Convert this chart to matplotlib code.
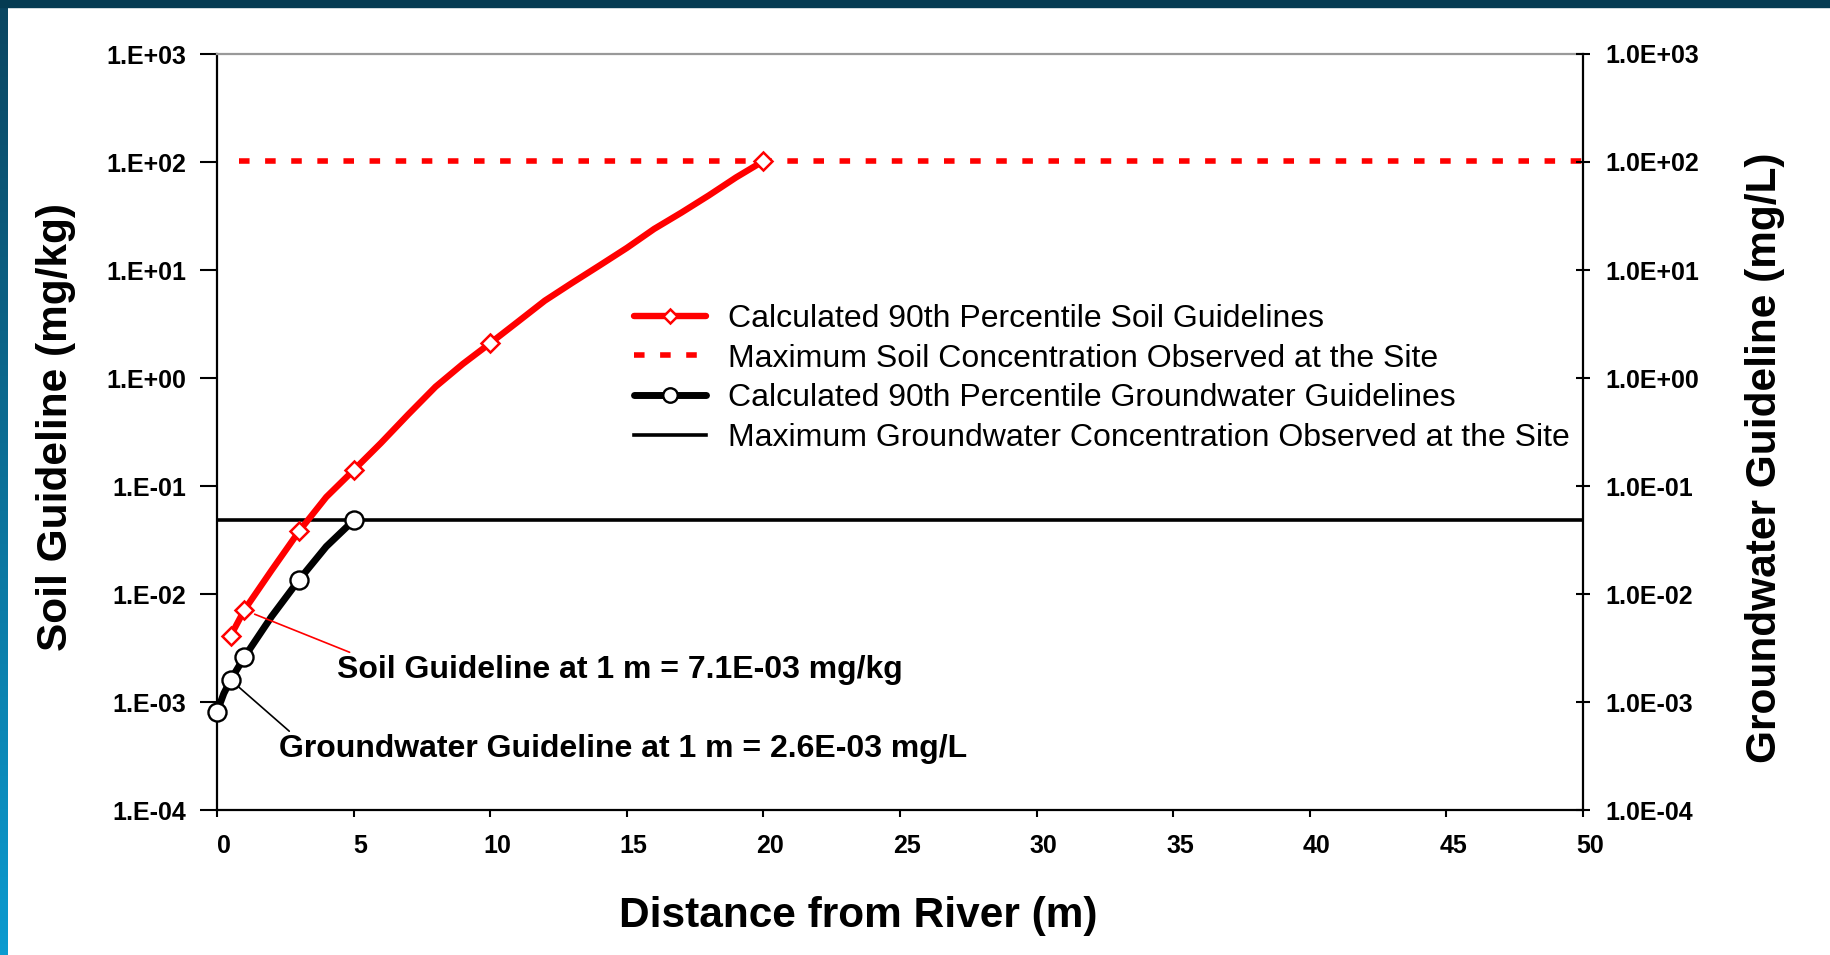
import numpy as np
import matplotlib
matplotlib.use("Agg")
import matplotlib.pyplot as plt
import matplotlib.transforms as mtransforms
from matplotlib.patches import Rectangle
from matplotlib.colors import LinearSegmentedColormap
from matplotlib.legend_handler import HandlerTuple
from matplotlib.ticker import FixedLocator, FuncFormatter, NullLocator

plt.rcParams['font.family'] = ['Liberation Sans', 'DejaVu Sans']

# data
dist_soil = np.array([0.5, 1, 2, 3, 4, 5, 6, 7, 8, 9, 10, 11, 12, 13, 14, 15, 16, 17, 18, 19, 20])
soil_guideline = np.array([4.1e-3, 7.1e-3, 1.66e-2, 3.8e-2, 7.9e-2, 0.14, 0.25, 0.46, 0.83, 1.35,
                           2.1, 3.3, 5.2, 7.6, 11, 16, 24, 34, 49, 72, 102])
soil_marks = [0, 1, 3, 5, 10, 20]

dist_gw = np.array([0, 0.25, 0.5, 1, 2, 3, 4, 5])
gw_guideline = np.array([8.1e-4, 1.2e-3, 1.6e-3, 2.6e-3, 6.2e-3, 1.35e-2, 2.75e-2, 4.8e-2])
gw_marks = [0, 2, 3, 5, 7]

max_soil_x = [0.8, 50]
max_soil = 103
max_gw_x = [0, 50]
max_gw = 0.048

y_ticks = 10.0 ** np.arange(-4, 4)
x_ticks = np.arange(0, 55, 5)

labels = ["Calculated 90th Percentile Soil Guidelines",
          "Maximum Soil Concentration Observed at the Site",
          "Calculated 90th Percentile Groundwater Guidelines",
          "Maximum Groundwater Concentration Observed at the Site"]

W, H = 1830, 955
fig = plt.figure(figsize=(W / 100, H / 100), dpi=100)

# slide background bits
grad = LinearSegmentedColormap.from_list("slide", ["#0a4560", "#0a9bd0"])
bg = fig.add_axes([0, 0, 8 / W, 1])
bg.imshow(np.linspace(0, 1, 256).reshape(-1, 1), aspect='auto', cmap=grad)
bg.axis('off')
fig.patches.append(Rectangle((0, 1 - 7 / H), 1, 7 / H, transform=fig.transFigure,
                             color="#053b52", zorder=5))

ax = fig.add_axes([217 / W, 1 - 810 / H, (1583 - 217) / W, (810 - 54) / H])
ax.set_yscale('log')
ax.set_xlim(0, 50)
ax.set_ylim(1e-4, 1e3)

gw_max_line, = ax.plot(max_gw_x, [max_gw, max_gw], color='black', lw=2.6, zorder=2)
soil_max_line, = ax.plot(max_soil_x, [max_soil, max_soil], color='#ff0000', lw=4.0,
                         dashes=(1.9, 2.8), zorder=2)
soil_line, = ax.plot(dist_soil, soil_guideline, color='#ff0000', lw=4.6, zorder=3,
                     solid_capstyle='round')
soil_pts, = ax.plot(dist_soil[soil_marks], soil_guideline[soil_marks], ls='none', marker='D',
                    ms=9.5, mfc='white', mec='#ff0000', mew=1.8, zorder=4, clip_on=False)
gw_line, = ax.plot(dist_gw, gw_guideline, color='black', lw=5.0, zorder=3,
                   solid_capstyle='round')
gw_pts, = ax.plot(dist_gw[gw_marks], gw_guideline[gw_marks], ls='none', marker='o',
                  ms=13, mfc='white', mec='black', mew=1.7, zorder=4, clip_on=False)

# axes styling
for s in ['left', 'bottom', 'right']:
    ax.spines[s].set_linewidth(1.6)
ax.spines['top'].set_color('#999999')
ax.spines['top'].set_linewidth(1.6)

ax.yaxis.set_major_locator(FixedLocator(y_ticks))
ax.yaxis.set_minor_locator(NullLocator())
ax.yaxis.set_major_formatter(FuncFormatter(lambda v, _: f"1.E{int(round(np.log10(v))):+03d}"))
ax.set_xticks(x_ticks)
ax.tick_params(axis='y', direction='out', length=12, width=1.5, pad=10, labelsize=18)
ax.tick_params(axis='x', direction='out', length=5, width=1.5, pad=12, labelsize=18)
for lab in ax.get_xticklabels() + ax.get_yticklabels():
    lab.set_fontweight('bold')
for lab in ax.get_xticklabels():
    lab.set_transform(lab.get_transform() + mtransforms.ScaledTranslation(7 / 100, 0, fig.dpi_scale_trans))

ax2 = ax.twinx()
ax2.set_yscale('log')
ax2.set_ylim(1e-4, 1e3)
ax2.yaxis.set_major_locator(FixedLocator(y_ticks))
ax2.yaxis.set_minor_locator(NullLocator())
ax2.yaxis.set_major_formatter(FuncFormatter(lambda v, _: f"1.0E{int(round(np.log10(v))):+03d}"))
ax2.tick_params(axis='y', direction='inout', length=10, width=1.5, pad=11, labelsize=18)
for lab in ax2.get_yticklabels():
    lab.set_fontweight('bold')
for s in ax2.spines.values():
    s.set_visible(False)

# axis titles
fig.text(56 / W, 1 - 427 / H, "Soil Guideline (mg/kg)", rotation=90, ha='center', va='center',
         fontsize=30.5, fontweight='bold')
fig.text(1765 / W, 1 - 458 / H, "Groundwater Guideline (mg/L)", rotation=90, ha='center',
         va='center', fontsize=30.5, fontweight='bold')
fig.text(858 / W, 1 - 916 / H, "Distance from River (m)", ha='center', va='center',
         fontsize=30.5, fontweight='bold')

# callouts
ax.annotate("Soil Guideline at 1 m = 7.1E-03 mg/kg", xy=(dist_soil[1], soil_guideline[1]),
            xytext=(93, -60), textcoords='offset pixels', ha='left', va='center',
            fontsize=23, fontweight='bold',
            arrowprops=dict(arrowstyle='-', color='#ff0000', lw=1.2, shrinkA=0, shrinkB=8,
                            relpos=(0.034, 1.0)))
ax.annotate("Groundwater Guideline at 1 m = 2.6E-03 mg/L", xy=(dist_gw[2], gw_guideline[2]),
            xytext=(48, -69), textcoords='offset pixels', ha='left', va='center',
            fontsize=23, fontweight='bold',
            arrowprops=dict(arrowstyle='-', color='black', lw=1.2, shrinkA=0, shrinkB=8,
                            relpos=(0.02, 1.0)))

leg = ax.legend([(soil_line, soil_pts), soil_max_line, (gw_line, gw_pts), gw_max_line], labels,
                handler_map={tuple: HandlerTuple(ndivide=1)}, numpoints=1,
                loc='upper left', bbox_to_anchor=(634 / W, 1 - 304 / H),
                bbox_transform=fig.transFigure, frameon=False, borderpad=0, borderaxespad=0,
                fontsize=23, handlelength=2.25, handletextpad=0.7, labelspacing=0.3,
                markerscale=0.8)
leg.set_zorder(6)

fig.savefig("out.png", dpi=100, facecolor='white')
